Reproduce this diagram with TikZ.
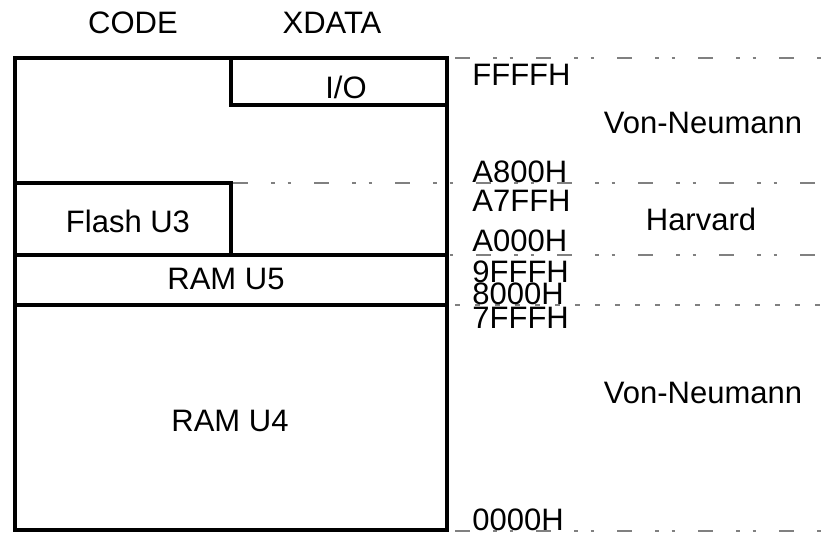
\documentclass[tikz,border=0pt]{standalone}
\usepackage{fontspec}
\setmainfont{Liberation Sans}
\tikzset{
  membox/.style={draw=black,line width=1.8pt,line join=miter},
  bound/.style={draw=black!50,line width=0.7pt,
    dash pattern=on 7.5pt off 11.5pt on 1.75pt off 6.5pt on 1.75pt off 11.5pt},
  split/.style={draw=black!50,line width=0.7pt,dash pattern=on 2.5pt off 7.5pt},
  lbl/.style={inner sep=0pt,anchor=base},
  addr/.style={inner sep=0pt,anchor=base west}
}

\begin{document}
\begin{tikzpicture}[x=0.5pt,y=-0.5pt,font=\fontsize{15.5}{18}\selectfont]
  \useasboundingbox (0,0) rectangle (832,538);

  % address boundaries
  \draw[bound] (455,58) -- (832,58);
  \draw[bound] (233,183) -- (832,183);
  \draw[bound] (233,255) -- (832,255);
  \draw[split] (455,305) -- (832,305);
  \draw[bound] (455,531) -- (832,531);

  % memory blocks
  \draw[membox] (15,58) rectangle (447,530);
  \draw[membox] (231,58) rectangle (447,105);
  \draw[membox] (15,183) rectangle (231,255);
  \draw[membox] (15,255) -- (447,255);
  \draw[membox] (15,305) -- (447,305);

  % space names
  \node[lbl] (code) at (133,33) {CODE};
  \node[lbl] (xdata) at (332,33) {XDATA};

  % block names
  \node[lbl] (io) at (346,98) {I/O};
  \node[lbl] (flash) at (128,232) {Flash U3};
  \node[lbl] (ramfive) at (226,289) {RAM U5};
  \node[lbl] (ramfour) at (230,431) {RAM U4};

  % addresses
  \node[addr] (aFFFF) at (472,85) {FFFFH};
  \node[addr] (aA800) at (472,182) {A800H};
  \node[addr] (aA7FF) at (472,211) {A7FFH};
  \node[addr] (aA000) at (472,251) {A000H};
  \node[addr] (a9FFF) at (472,282) {9FFFH};
  \node[addr] (a8000) at (472,304) {8000H};
  \node[addr] (a7FFF) at (472,328) {7FFFH};
  \node[addr] (a0000) at (472,530) {0000H};

  % architectures
  \node[lbl] (vnhigh) at (703,133) {Von-Neumann};
  \node[lbl] (harvard) at (701,230) {Harvard};
  \node[lbl] (vnlow) at (703,403) {Von-Neumann};
\end{tikzpicture}
\end{document}
